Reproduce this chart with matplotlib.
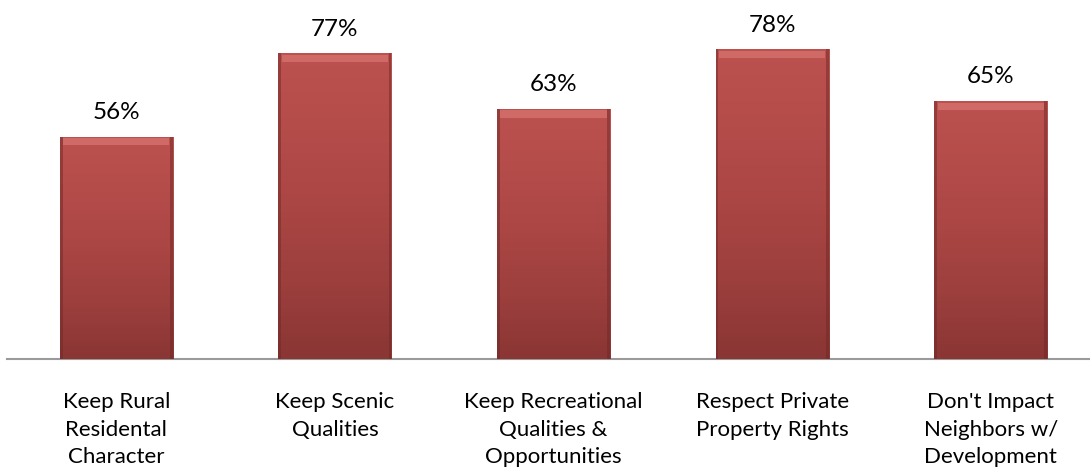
import numpy as np
import matplotlib.pyplot as plt
from matplotlib.colors import LinearSegmentedColormap

plt.rcParams.update({
    "font.size": 16,
    "font.family": ["Lato", "DejaVu Sans"],
})

categories = [
    "Keep Rural\nResidental\nCharacter",
    "Keep Scenic\nQualities",
    "Keep Recreational\nQualities &\nOpportunities",
    "Respect Private\nProperty Rights",
    "Don't Impact\nNeighbors w/\nDevelopment",
]
values = [56, 77, 63, 78, 65]
value_labels = ["56%", "77%", "63%", "78%", "65%"]

fig = plt.figure(figsize=(10.9, 4.73), dpi=100)
ax = fig.add_axes([7 / 1090, 114 / 473, 1093 / 1090, 317.6 / 473])

x = np.arange(len(values))
bars = ax.bar(x, values, width=0.517, color="#a84442", zorder=2)

# vertical shading inside each bar (lighter top, darker bottom)
shade = LinearSegmentedColormap.from_list(
    "shade", ["#8a3634", "#9c3f3d", "#aa4644", "#b44c4a", "#bc5250"])
grad = np.linspace(0, 1, 256).reshape(-1, 1)
for b in bars:
    x0, w, h = b.get_x(), b.get_width(), b.get_height()
    im = ax.imshow(grad, extent=[x0, x0 + w, 0, h], origin="lower",
                   cmap=shade, aspect="auto", zorder=3)
    im.set_clip_path(b)
    # light bevel strip at top
    ax.bar(x0 + w / 2, 1.8, width=w * 0.94, bottom=h - 2.2,
           color="#d97572", alpha=0.7, zorder=4, linewidth=0)
    # darker edges on sides
    ax.bar(x0 + w * 0.012, h, width=w * 0.024, color="#6e2a28", alpha=0.5,
           zorder=4, linewidth=0)
    ax.bar(x0 + w - w * 0.012, h, width=w * 0.024, color="#6e2a28", alpha=0.5,
           zorder=4, linewidth=0)

for xi, v, lab in zip(x, values, value_labels):
    ax.text(xi, v + 3.4, lab, ha="center", va="bottom", fontsize=17.5)

ax.set_xlim(-0.5, 4.5)
ax.set_ylim(0, 80)
ax.set_xticks(x)
ax.set_xticklabels(categories, linespacing=1.47)
ax.tick_params(axis="x", length=0, pad=24)
ax.set_yticks([])
for side in ["top", "right", "left"]:
    ax.spines[side].set_visible(False)
ax.spines["bottom"].set_color("#9a9a9a")
ax.spines["bottom"].set_linewidth(1.5)

fig.savefig("out.png", dpi=100)
